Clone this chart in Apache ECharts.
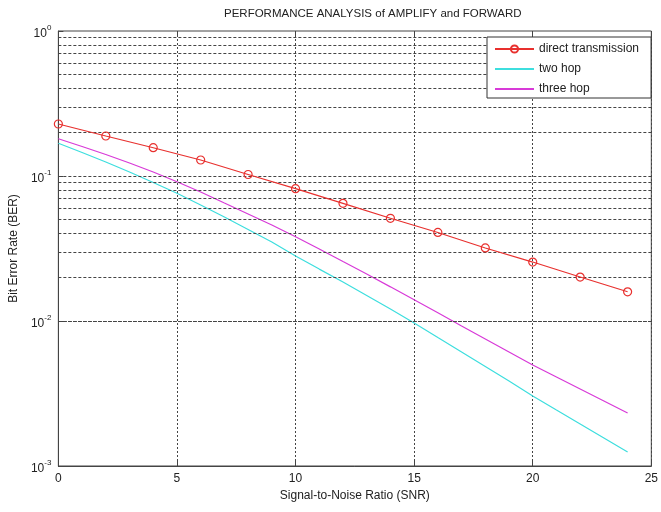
<!DOCTYPE html>
<html>
<head>
<meta charset="utf-8">
<script src="https://cdn.jsdelivr.net/npm/echarts@6/dist/echarts.min.js"></script>
<style>html,body{margin:0;padding:0;background:#fff;}#c{width:661px;height:512px;}</style>
</head>
<body>
<div id="c"></div>
<script>
// ---- data ----
var snrDirect = [0, 2, 4, 6, 8, 10, 12, 14, 16, 18, 20, 22, 24];
var berDirect = [0.2284, 0.1887, 0.1567, 0.1289, 0.1024, 0.0818, 0.0648, 0.0511, 0.0408, 0.0319, 0.0255, 0.0201, 0.0159];
var snrHop = [0, 1, 2, 3, 4, 5, 6, 7, 8, 9, 10, 11, 12, 13, 14, 15, 16, 17, 18, 19, 20, 21, 22, 23, 24];
var berTwoHop = [0.1681, 0.1452, 0.1249, 0.1066, 0.0902, 0.0760, 0.0631, 0.0521, 0.0428, 0.0351, 0.0281, 0.0228, 0.0186, 0.0150, 0.0121, 0.00969, 0.00769, 0.00611, 0.00486, 0.00386, 0.00304, 0.00243, 0.00195, 0.00156, 0.00125];
var berThreeHop = [0.1808, 0.1598, 0.1407, 0.1229, 0.1066, 0.0913, 0.0776, 0.0651, 0.0547, 0.0459, 0.0381, 0.0314, 0.0257, 0.0211, 0.0172, 0.0140, 0.0114, 0.00924, 0.00751, 0.00611, 0.00497, 0.00411, 0.00340, 0.00281, 0.00232];
var seriesNames = ['direct transmission', 'two hop', 'three hop'];
var xTicks = [0, 5, 10, 15, 20, 25];
var yMinorGrid = [0.002, 0.003, 0.004, 0.005, 0.006, 0.007, 0.008, 0.009, 0.01,
                  0.02, 0.03, 0.04, 0.05, 0.06, 0.07, 0.08, 0.09, 0.1,
                  0.2, 0.3, 0.4, 0.5, 0.6, 0.7, 0.8, 0.9];

function pairs(xs, ys) { return xs.map(function (x, i) { return [x, ys[i]]; }); }

var FONT = 'Liberation Sans, Arial, sans-serif';
var RED = '#e8302e', CYAN = '#3ddede', MAGENTA = '#d83ad8';
var chart = echarts.init(document.getElementById('c'), null, {renderer: 'canvas'});
var option = {
  animation: false,
  backgroundColor: '#fff',
  textStyle: {fontFamily: FONT},
  title: {
    text: 'PERFORMANCE ANALYSIS of AMPLIFY and FORWARD',
    left: 219, top: 3,
    textStyle: {fontSize: 11.5, fontWeight: 'normal', color: '#222', fontFamily: FONT}
  },
  grid: {left: 57, right: 5, top: 31, bottom: 46, show: true, borderColor: '#444', borderWidth: 1, backgroundColor: 'transparent'},
  legend: {
    orient: 'vertical', left: 487, top: 37, z: 20,
    data: [
      {name: seriesNames[0]},
      {name: seriesNames[1], itemStyle: {opacity: 0}},
      {name: seriesNames[2], itemStyle: {opacity: 0}}
    ],
    itemWidth: 39, itemHeight: 9, itemGap: 8,
    padding: [6, 12, 3, 7],
    backgroundColor: '#fff', borderColor: '#333', borderWidth: 1,
    textStyle: {fontSize: 12, color: '#222', fontFamily: FONT}
  },
  xAxis: [{
    type: 'value', min: 0, max: 25, interval: 5,
    name: 'Signal-to-Noise Ratio (SNR)', nameLocation: 'middle', nameGap: 24,
    nameTextStyle: {fontSize: 12, color: '#222', fontFamily: FONT},
    axisLine: {show: true, onZero: false, lineStyle: {color: '#444'}},
    axisTick: {show: true, inside: true, length: 5, lineStyle: {color: '#444'}},
    axisLabel: {fontSize: 12, color: '#222', margin: 7, fontFamily: FONT},
    splitLine: {show: true, lineStyle: {color: '#444', type: [2, 2], width: 1}}
  }, {
    type: 'value', min: 0, max: 25, interval: 5, position: 'top',
    axisLine: {show: false},
    axisTick: {show: true, inside: true, length: 5, lineStyle: {color: '#444'}},
    axisLabel: {show: false}, splitLine: {show: false}
  }],
  yAxis: {
    type: 'log', logBase: 10, min: 0.001, max: 1,
    name: 'Bit Error Rate (BER)', nameLocation: 'middle', nameGap: 36,
    nameTextStyle: {fontSize: 12, color: '#222', fontFamily: FONT},
    axisLine: {show: true, lineStyle: {color: '#444'}},
    axisTick: {show: true, inside: true, length: 5, lineStyle: {color: '#444'}},
    axisLabel: {
      margin: 7,
      formatter: function (v) {
        var e = Math.round(Math.log(v) / Math.LN10);
        return '{b|10}{s|' + e + '}';
      },
      rich: {
        b: {fontSize: 12, color: '#222', fontFamily: FONT, lineHeight: 14, padding: [6, 0, 0, 0]},
        s: {fontSize: 8, color: '#222', fontFamily: FONT, lineHeight: 8, padding: [0, 0, 6, 0]}
      }
    },
    splitLine: {show: false}
  },
  series: [{
    name: seriesNames[0], type: 'line', data: pairs(snrDirect, berDirect),
    symbol: 'circle', symbolSize: 8,
    lineStyle: {color: RED, width: 1.2},
    itemStyle: {color: 'rgba(255,255,255,0)', borderColor: RED, borderWidth: 1.2},
    z: 5,
    markLine: {
      silent: true, symbol: 'none', animation: false,
      label: {show: false},
      lineStyle: {color: '#444', type: [3, 2], width: 1},
      emphasis: {disabled: true},
      data: yMinorGrid.map(function (v) { return {yAxis: v}; })
    }
  }, {
    name: seriesNames[1], type: 'line', data: pairs(snrHop, berTwoHop),
    symbol: 'none', smooth: false,
    lineStyle: {color: CYAN, width: 1.2},
    itemStyle: {color: CYAN}, z: 4
  }, {
    name: seriesNames[2], type: 'line', data: pairs(snrHop, berThreeHop),
    symbol: 'none', smooth: false,
    lineStyle: {color: MAGENTA, width: 1.2},
    itemStyle: {color: MAGENTA}, z: 4
  }]
};
chart.setOption(option);
</script>
</body>
</html>
